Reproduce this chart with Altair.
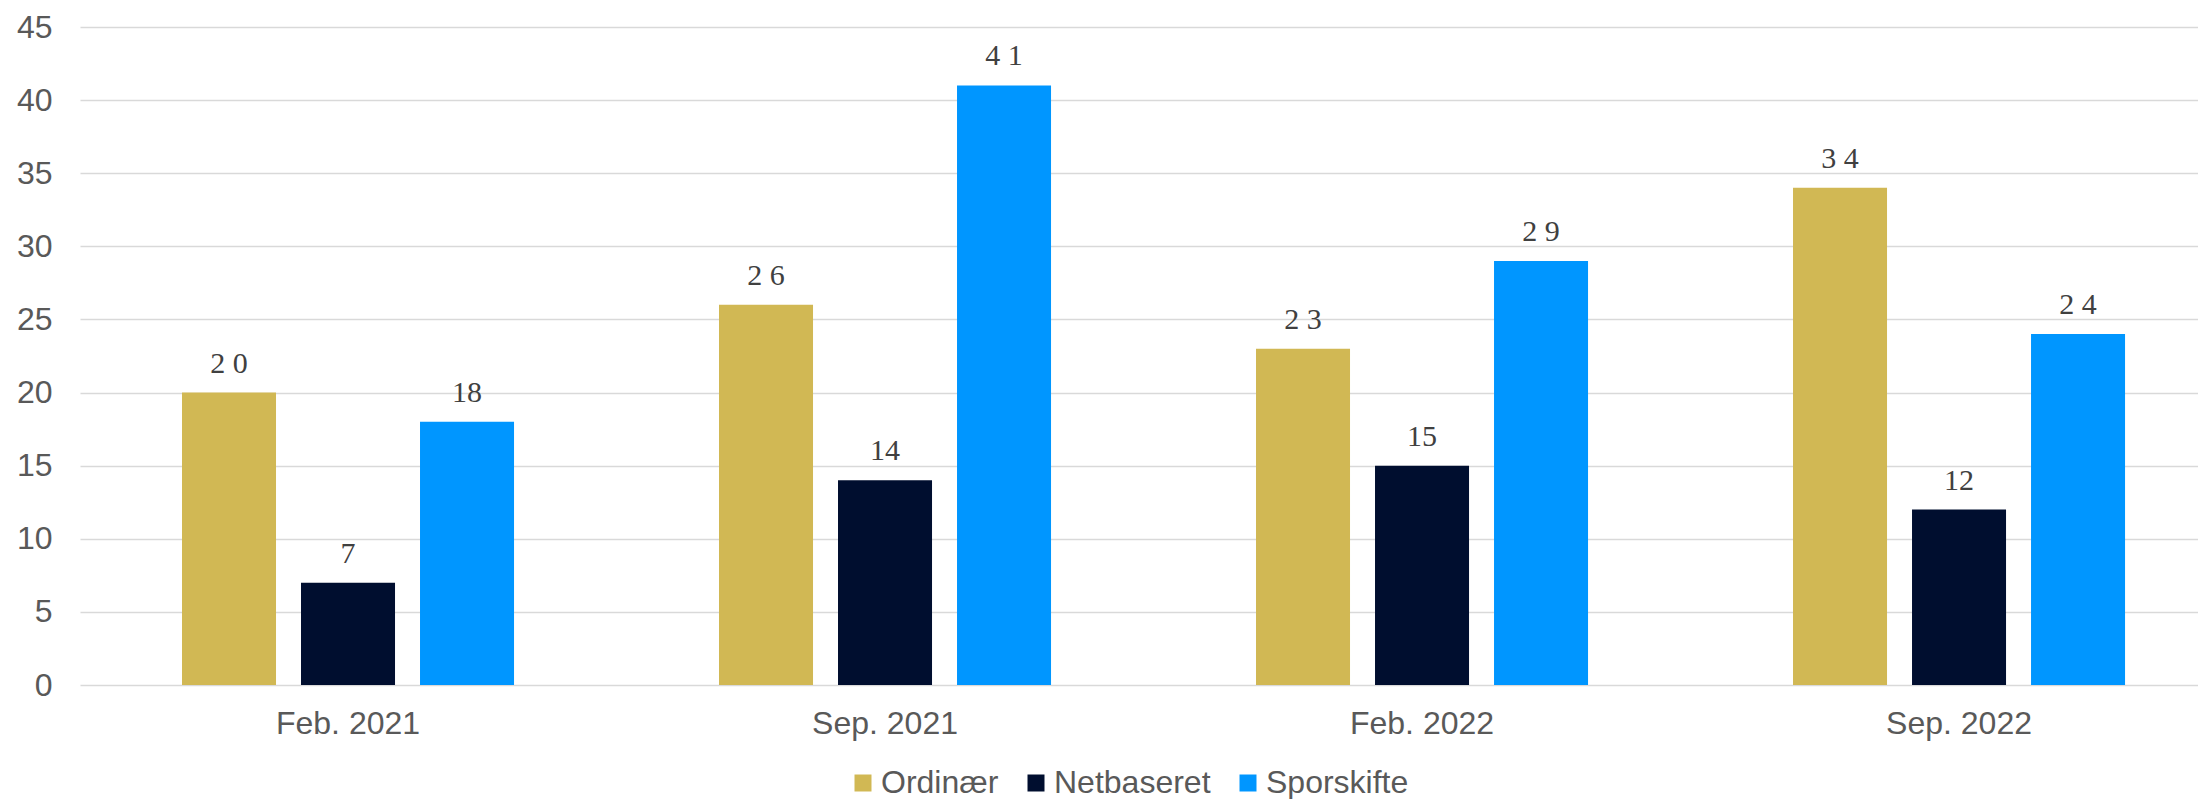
import altair as alt
import pandas as pd

periods = ["Feb. 2021", "Sep. 2021", "Feb. 2022", "Sep. 2022"]
series = ["Ordinær", "Netbaseret", "Sporskifte"]
ordinaer = [20, 26, 23, 34]
netbaseret = [7, 14, 15, 12]
sporskifte = [18, 41, 29, 24]
colors = ["#D1B854", "#000E2F", "#0096FF"]
y_ticks = [0, 5, 10, 15, 20, 25, 30, 35, 40, 45]

rows = []
for i, p in enumerate(periods):
    for s, vals in zip(series, [ordinaer, netbaseret, sporskifte]):
        v = vals[i]
        txt = str(v)
        label = txt if txt.startswith("1") else " ".join(txt)
        rows.append({"period": p, "series": s, "value": v, "label": label})
df = pd.DataFrame(rows)

FONT = "Liberation Sans"

x_enc = alt.X(
    "period:N",
    sort=periods,
    title=None,
    scale=alt.Scale(paddingInner=0.3817, paddingOuter=0.1629, align=0.583),
    axis=alt.Axis(
        labelAngle=0,
        labelFontSize=32,
        labelFont=FONT,
        labelColor="#595959",
        labelPadding=23,
        ticks=False,
        domain=False,
        grid=False,
    ),
)
xoff_enc = alt.XOffset(
    "series:N", sort=series, scale=alt.Scale(paddingInner=0.21, paddingOuter=0)
)
y_enc = alt.Y(
    "value:Q",
    title=None,
    scale=alt.Scale(domain=[0, 45], nice=False),
    axis=alt.Axis(
        values=y_ticks,
        labelFontSize=32,
        labelFont=FONT,
        labelColor="#595959",
        labelPadding=28,
        ticks=False,
        domain=False,
        grid=True,
        gridColor="#D9D9D9",
        gridWidth=1.5,
    ),
)

bars = alt.Chart(df).mark_bar().encode(
    x=x_enc,
    xOffset=xoff_enc,
    y=y_enc,
    color=alt.Color(
        "series:N",
        sort=series,
        scale=alt.Scale(domain=series, range=colors),
        legend=alt.Legend(
            title=None,
            orient="none",
            legendX=767,
            legendY=740,
            direction="horizontal",
            symbolType="square",
            symbolSize=289,
            symbolStrokeWidth=0,
            labelFontSize=32,
            labelFont=FONT,
            labelColor="#595959",
            labelOffset=2,
            columnPadding=21,
        ),
    ),
)

labels = alt.Chart(df).mark_text(
    baseline="bottom",
    dy=-14,
    font="Liberation Serif",
    fontSize=30,
    color="#404040",
).encode(
    x=alt.X("period:N", sort=periods),
    xOffset=alt.XOffset("series:N", sort=series),
    y=alt.Y("value:Q"),
    text="label:N",
)

chart = (
    alt.layer(bars, labels)
    .properties(
        width=2118,
        height=658,
        autosize=alt.AutoSizeParams(type="none"),
        padding={"left": 72, "top": 19, "right": 0, "bottom": 122},
    )
    .configure_view(stroke=None)
)

chart.save("out.html", embed_options={"renderer": "svg", "actions": False})
